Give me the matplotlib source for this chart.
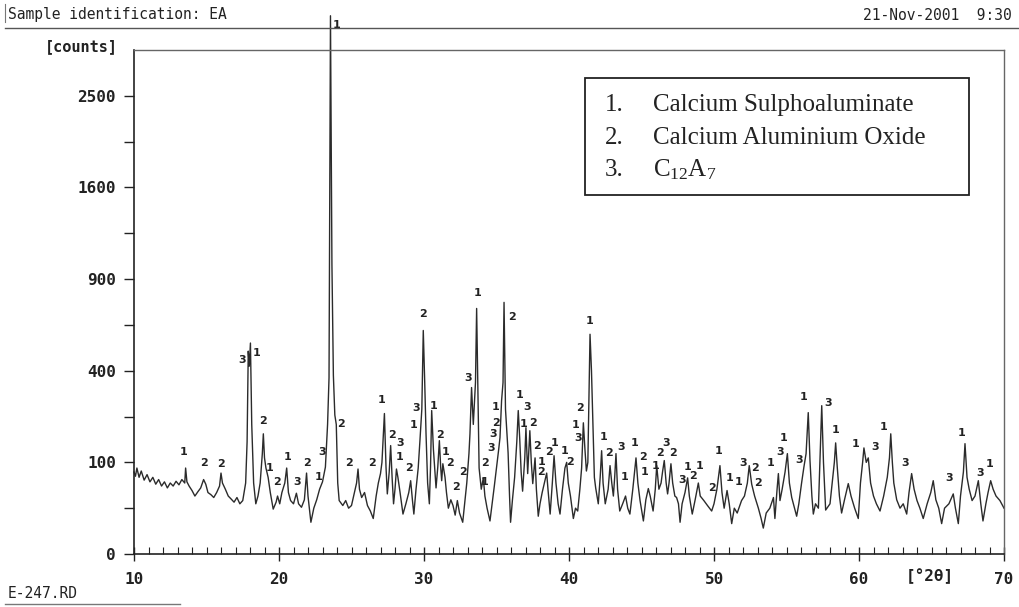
import numpy as np
import matplotlib.pyplot as plt
from matplotlib.lines import Line2D
from matplotlib.patches import Rectangle

# diffraction trace (2theta in degrees, intensity in counts)
two_theta = [
    10.0, 10.1, 10.2, 10.35, 10.5, 10.7, 10.9, 11.1, 11.3, 11.5, 11.7, 11.9, 12.1, 12.3, 12.5,
    12.7, 12.9, 13.1, 13.3, 13.5, 13.56, 13.65, 13.8, 14.0, 14.2, 14.4, 14.6, 14.8, 14.95, 15.1,
    15.3, 15.5, 15.7, 15.9, 16.0, 16.1, 16.3, 16.5, 16.7, 16.9, 17.1, 17.3, 17.5, 17.7, 17.8,
    17.88, 17.95, 18.03, 18.12, 18.25, 18.4, 18.55, 18.7, 18.85, 18.92, 19.0, 19.1, 19.25, 19.4,
    19.6, 19.8, 19.9, 20.05, 20.2, 20.4, 20.53, 20.65, 20.8, 21.0, 21.2, 21.35, 21.55, 21.75,
    21.9, 22.0, 22.2, 22.4, 22.6, 22.8, 23.0, 23.2, 23.35, 23.45, 23.55, 23.65, 23.75, 23.85,
    23.95, 24.05, 24.15, 24.4, 24.6, 24.8, 25.0, 25.2, 25.35, 25.45, 25.55, 25.7, 25.9, 26.1,
    26.3, 26.5, 26.7, 26.85, 27.0, 27.1, 27.27, 27.38, 27.47, 27.6, 27.7, 27.8, 27.9, 28.0,
    28.1, 28.2, 28.35, 28.55, 28.75, 28.95, 29.08, 29.2, 29.3, 29.45, 29.6, 29.72, 29.85, 29.95,
    30.05, 30.14, 30.25, 30.37, 30.45, 30.53, 30.65, 30.83, 30.95, 31.06, 31.15, 31.22, 31.3,
    31.45, 31.55, 31.68, 31.85, 32.0, 32.15, 32.3, 32.45, 32.67, 32.8, 32.95, 33.1, 33.17, 33.28,
    33.4, 33.55, 33.63, 33.72, 33.8, 33.95, 34.09, 34.2, 34.35, 34.55, 34.7, 34.85, 35.0, 35.15,
    35.24, 35.35, 35.45, 35.52, 35.62, 35.8, 35.9, 35.97, 36.1, 36.25, 36.4, 36.5, 36.6, 36.7,
    36.8, 36.95, 37.03, 37.15, 37.3, 37.4, 37.5, 37.66, 37.75, 37.88, 38.0, 38.15, 38.3, 38.46,
    38.55, 38.7, 38.85, 38.97, 39.1, 39.25, 39.38, 39.55, 39.72, 39.84, 39.95, 40.1, 40.3, 40.45,
    40.6, 40.75, 40.87, 40.99, 41.1, 41.2, 41.3, 41.45, 41.55, 41.65, 41.75, 41.84, 42.02, 42.15,
    42.25, 42.35, 42.5, 42.7, 42.83, 42.95, 43.06, 43.15, 43.24, 43.35, 43.5, 43.7, 43.9, 44.05,
    44.2, 44.4, 44.62, 44.75, 44.9, 45.13, 45.3, 45.47, 45.6, 45.8, 45.95, 46.05, 46.2, 46.35,
    46.45, 46.57, 46.7, 46.8, 46.9, 47.03, 47.15, 47.3, 47.42, 47.55, 47.66, 47.8, 48.0, 48.18,
    48.3, 48.5, 48.7, 48.92, 49.05, 49.3, 49.55, 49.84, 50.0, 50.2, 50.41, 50.55, 50.7, 50.9,
    51.05, 51.22, 51.4, 51.6, 51.9, 52.1, 52.3, 52.43, 52.6, 52.8, 53.06, 53.25, 53.4, 53.6,
    53.85, 54.1, 54.2, 54.35, 54.44, 54.55, 54.7, 54.9, 55.06, 55.2, 55.36, 55.55, 55.7, 55.85,
    56.04, 56.2, 56.35, 56.5, 56.62, 56.75, 56.85, 57.0, 57.2, 57.35, 57.43, 57.55, 57.7, 58.0,
    58.15, 58.3, 58.39, 58.5, 58.65, 58.8, 59.0, 59.26, 59.45, 59.7, 59.95, 60.1, 60.25, 60.34,
    60.5, 60.64, 60.8, 61.0, 61.2, 61.45, 61.7, 61.95, 62.1, 62.19, 62.3, 62.4, 62.6, 62.83,
    63.05, 63.29, 63.45, 63.63, 63.8, 64.0, 64.2, 64.43, 64.7, 64.95, 65.12, 65.3, 65.5, 65.7,
    65.9, 66.2, 66.5, 66.65, 66.85, 67.0, 67.2, 67.31, 67.45, 67.6, 67.8, 68.0, 68.23, 68.4,
    68.55, 68.75, 68.9, 69.08, 69.25, 69.45, 69.72, 70.0,
]
counts = [
    80, 72, 88, 70, 82, 65, 75, 62, 70, 58, 66, 55, 62, 52, 60,
    55, 63, 57, 66, 60, 88, 62, 55, 48, 40, 46, 52, 66, 58, 45,
    42, 38, 45, 55, 78, 60, 50, 40, 36, 32, 38, 30, 34, 60, 150,
    490, 420, 530, 200, 60, 30, 40, 60, 120, 172, 110, 88, 70, 45,
    24, 32, 40, 30, 45, 60, 88, 45, 34, 30, 44, 30, 26, 35,
    78, 40, 12, 25, 35, 50, 62, 90, 200, 370, 3450, 1000, 380, 230,
    200, 60, 34, 28, 34, 25, 28, 45, 60, 86, 50, 38, 45, 28,
    22, 15, 40, 60, 77, 100, 235, 90, 43, 80, 140, 70, 30, 50,
    86, 70, 45, 19, 30, 45, 64, 35, 19, 50, 88, 153, 250, 595,
    350, 172, 60, 30, 90, 245, 130, 52, 90, 153, 90, 64, 97,
    70, 45, 25, 35, 28, 18, 34, 20, 12, 30, 60, 120, 172, 330,
    200, 350, 718, 300, 88, 50, 69, 40, 25, 13, 30, 55, 88, 130,
    161, 280, 350, 754, 250, 122, 40, 12, 35, 70, 150, 245, 160, 80,
    47, 110, 190, 77, 181, 100, 59, 110, 50, 17, 30, 45, 60, 78,
    50, 19, 60, 115, 60, 30, 19, 50, 88, 100, 60, 40, 15, 25,
    22, 50, 88, 205, 130, 82, 100, 575, 400, 200, 70, 52, 30, 70,
    127, 60, 30, 50, 93, 60, 40, 70, 120, 50, 22, 30, 40, 25,
    19, 50, 110, 60, 34, 13, 35, 51, 40, 22, 50, 93, 50, 60,
    80, 104, 60, 43, 60, 97, 60, 40, 38, 30, 12, 30, 45, 69,
    40, 19, 35, 60, 40, 34, 28, 22, 30, 50, 93, 45, 25, 48,
    30, 11, 25, 20, 34, 40, 60, 93, 58, 40, 25, 15, 8, 20,
    25, 38, 15, 50, 77, 34, 50, 80, 120, 60, 38, 25, 17, 30,
    60, 90, 120, 238, 104, 40, 19, 30, 25, 150, 262, 100, 23, 30,
    60, 100, 147, 90, 40, 20, 35, 59, 40, 25, 15, 60, 100, 134,
    100, 110, 60, 40, 30, 22, 40, 70, 110, 172, 100, 60, 35, 25,
    30, 19, 45, 77, 50, 34, 25, 15, 30, 45, 64, 35, 25, 11,
    25, 30, 43, 25, 11, 40, 80, 145, 70, 50, 34, 40, 64, 30,
    13, 30, 45, 64, 50, 40, 34, 25,
]

# hand written phase numbers: (2theta, counts at label, phase)
peak_labels = [
    (13.45, 124, "1"), (14.83, 99, "2"), (16.0, 97, "2"), (17.47, 449, "3"), (18.44, 482, "1"),
    (18.92, 211, "2"), (19.38, 88, "1"), (19.89, 62, "2"), (20.62, 112, "1"), (21.22, 62, "3"),
    (21.9, 99, "2"), (22.76, 71, "1"), (22.94, 124, "3"), (23.96, 3335, "1"), (24.3, 201, "2"),
    (24.85, 99, "2"), (26.39, 99, "2"), (27.08, 283, "1"), (27.77, 169, "2"), (28.35, 147, "3"),
    (28.3, 112, "1"), (28.99, 88, "2"), (29.91, 686, "2"), (29.45, 254, "3"), (29.26, 198, "1"),
    (30.69, 261, "1"), (31.1, 169, "2"), (31.52, 124, "1"), (31.79, 99, "2"), (32.21, 53, "2"),
    (32.71, 80, "2"), (33.06, 369, "3"), (33.68, 812, "1"), (34.2, 99, "2"), (34.2, 62, "1"),
    (34.94, 258, "1"), (34.94, 205, "2"), (34.78, 172, "3"), (34.62, 134, "3"), (36.05, 669, "2"),
    (36.62, 301, "1"), (37.08, 258, "3"), (36.9, 201, "1"), (37.54, 205, "2"), (37.77, 139, "2"),
    (38.12, 101, "1"), (38.05, 80, "2"), (38.64, 124, "2"), (38.97, 147, "1"), (39.72, 126, "1"),
    (40.07, 101, "2"), (40.76, 254, "2"), (40.46, 198, "1"), (40.6, 160, "3"), (41.45, 647, "1"),
    (42.37, 163, "1"), (42.76, 122, "2"), (43.59, 136, "3"), (43.86, 71, "1"), (44.55, 147, "1"),
    (45.12, 112, "2"), (45.24, 80, "1"), (45.98, 92, "1"), (46.28, 122, "2"), (46.67, 147, "3"),
    (47.2, 122, "2"), (47.82, 65, "3"), (48.18, 90, "1"), (48.57, 73, "2"), (48.97, 92, "1"),
    (49.84, 52, "2"), (50.3, 126, "1"), (51.06, 69, "1"), (51.72, 62, "1"), (52.02, 99, "3"),
    (52.83, 88, "2"), (53.06, 60, "2"), (53.93, 99, "1"), (54.55, 124, "3"), (54.78, 160, "1"),
    (55.89, 105, "3"), (56.21, 294, "1"), (57.89, 272, "3"), (58.39, 183, "1"), (59.79, 144, "1"),
    (61.1, 136, "3"), (61.72, 192, "1"), (63.17, 99, "3"), (66.23, 69, "3"), (67.08, 174, "1"),
    (68.35, 78, "3"), (68.99, 97, "1"),
]

legend_nums = ["1.", "2.", "3."]
legend_names = ["Calcium Sulphoaluminate", "Calcium Aluminium Oxide",
                r"C$\mathregular{_{12}}$A$\mathregular{_7}$"]

y_ticks = [0, 100, 400, 900, 1600, 2500]
y_minor = [25, 225, 625, 1225, 2025]
x_ticks = [10, 20, 30, 40, 50, 60, 70]

W, H = 1019, 607
mono = "DejaVu Sans Mono"
ink = "#222222"

fig = plt.figure(figsize=(W / 100, H / 100), dpi=100)
ax = fig.add_axes([134 / W, 1 - 554 / H, (1004 - 134) / W, (554 - 50) / H])

ax.plot(two_theta, counts, color="#2b2b2b", lw=1.0, clip_on=False)

ax.set_yscale("function", functions=(lambda v: np.sqrt(np.clip(v, 0, None)), lambda v: v ** 2))
ax.set_xlim(10, 70)
ax.set_ylim(0, 3025)
ax.set_yticks(y_ticks)
ax.set_yticks(y_minor, minor=True)
ax.set_xticks(x_ticks)
ax.set_xticks(np.arange(10, 71, 1), minor=True)
ax.set_yticklabels([str(t) for t in y_ticks], fontfamily=mono, fontweight="bold", fontsize=11.5, color=ink)
ax.set_xticklabels([str(t) for t in x_ticks], fontfamily=mono, fontweight="bold", fontsize=11.5, color=ink)
ax.tick_params(axis="y", which="both", direction="out", length=7, width=1, color=ink, pad=6)
ax.tick_params(axis="x", which="major", direction="inout", length=10, width=1, color=ink, pad=8)
ax.tick_params(axis="x", which="minor", direction="in", length=5, width=0.8, color=ink)

for side in ["left", "bottom"]:
    ax.spines[side].set_color(ink)
    ax.spines[side].set_linewidth(1.2)
for side in ["top", "right"]:
    ax.spines[side].set_color("#666666")
    ax.spines[side].set_linewidth(1)
    ax.spines[side].set_linestyle((0, (1, 1)))

for x, y, t in peak_labels:
    ax.text(x, y, t, fontsize=8, fontweight="bold", color=ink, ha="center", va="center", clip_on=False)

# header, footer and axis captions
fig.text(8 / W, 1 - 14 / H, "Sample identification: EA", fontfamily=mono, fontsize=10.5, color=ink, va="center")
fig.text(1012 / W, 1 - 16 / H, "21-Nov-2001  9:30", fontfamily=mono, fontsize=10.5, color=ink, va="center", ha="right")
fig.add_artist(Line2D([5 / W, 1], [1 - 28 / H] * 2, color="#555555", lw=1))
fig.add_artist(Line2D([5 / W, 5 / W], [1 - 4 / H, 1 - 22 / H], color="#777777", lw=0.8))
fig.text(118 / W, 1 - 47 / H, "[counts]", fontfamily=mono, fontweight="bold", fontsize=11, color=ink, va="center", ha="right")
fig.text(930 / W, 1 - 576 / H, "[°2θ]", fontfamily=mono, fontweight="bold", fontsize=11.5, color=ink, va="center", ha="center")
fig.text(8 / W, 1 - 594 / H, "E-247.RD", fontfamily=mono, fontsize=10.5, color=ink, va="center")
fig.add_artist(Line2D([5 / W, 180 / W], [1 - 604 / H] * 2, color="#777777", lw=1))

# phase legend box
fig.add_artist(Rectangle((585 / W, 1 - 195 / H), 384 / W, 117 / H, transform=fig.transFigure,
                         facecolor="white", edgecolor=ink, lw=1.3))
for i, (num, name) in enumerate(zip(legend_nums, legend_names)):
    y = 1 - (105 + i * 32.5) / H
    fig.text(605 / W, y, num, fontfamily="Liberation Serif", fontsize=18, color=ink, va="center")
    fig.text(653 / W, y, name, fontfamily="Liberation Serif", fontsize=18, color=ink, va="center")

fig.savefig("out.png", dpi=100)
